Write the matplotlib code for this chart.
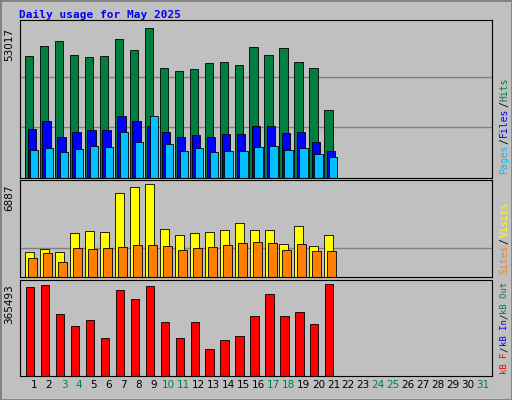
import matplotlib
matplotlib.use("Agg")
import matplotlib.pyplot as plt
import numpy as np

days = list(range(1, 32))
ndata = 21
hits_top = [56,46,41,55,57,56,39,50,28,68,71,69,63,62,65,47,55,48,62,68,109]
files_top = [128,120,136,131,129,129,115,120,125,131,136,134,136,133,133,125,125,132,131,141,150]
pages_top = [149,147,151,148,145,146,131,141,115,143,150,147,151,150,150,146,145,149,147,153,156]
visits_top = [251,248,251,232,230,231,193,187,184,228,234,232,231,229,223,229,229,243,226,245,234]
sites_top = [257,252,261,247,248,247,246,244,244,245,249,247,246,244,242,241,242,249,243,250,250]
kb_top = [287,285,314,326,320,337,290,299,286,322,337,322,348,339,335,316,294,316,312,324,284]

hits = [round((177 - t) / 149 * 53017) for t in hits_top]
files = [round((177 - t) / 149 * 53017) for t in files_top]
pages = [round((177 - t) / 149 * 53017) for t in pages_top]
visits = [round((276 - t) / 92 * 6887) for t in visits_top]
sites = [round((276 - t) / 92 * 6887) for t in sites_top]
kbytes = [round((375 - t) / 91 * 365493) for t in kb_top]

BG = "#C0C0C0"
mono = "DejaVu Sans Mono"
fig = plt.figure(figsize=(5.12, 4.0), dpi=100, facecolor=BG)
fig.add_artist(plt.Rectangle((0, 0), 1, 1, transform=fig.transFigure, fill=False, ec="#808080", lw=2))
fig.text(0.037, 0.962, "Daily usage for May 2025", color="#0000FF", family=mono,
         weight="bold", fontsize=8, va="center")

x = np.arange(1, ndata + 1)
W = 0.55

def mk(rect, ymax, grid):
    ax = fig.add_axes(rect)
    ax.set_facecolor(BG)
    ax.set_xlim(0.06, 31.6)
    ax.set_ylim(0, ymax)
    for g in grid:
        ax.axhline(g * ymax, color="#808080", lw=1, zorder=0)
    ax.set_xticks([])
    ax.set_yticks([])
    for s in ax.spines.values():
        s.set_color("black")
    return ax

ax1 = mk([0.039, 0.555, 0.922, 0.395], max(hits) * 157 / 149, [0.32, 0.64])
ax1.bar(x - 0.33, hits, W, color="#008040", ec="black", lw=0.6)
ax1.bar(x - 0.16, files, W, color="#0000FF", ec="black", lw=0.6)
ax1.bar(x + 0.0, pages, W, color="#00C0FF", ec="black", lw=0.6)

ax2 = mk([0.039, 0.3075, 0.922, 0.2425], max(visits) * 96 / 92, [0.30])
ax2.bar(x - 0.3, visits, W + 0.05, color="#FFFF00", ec="black", lw=0.6)
ax2.bar(x - 0.1, sites, W + 0.05, color="#FF8000", ec="black", lw=0.6)

ax3 = mk([0.039, 0.06, 0.922, 0.24], max(kbytes) * 95 / 91, [])
ax3.bar(x - 0.27, kbytes, W, color="#FF0000", ec="black", lw=0.6)

ax3.set_xticks(days)
ax3.set_xticklabels([str(d) for d in days], fontsize=7.5)
ax3.tick_params(length=0, pad=3)
weekend = {3, 4, 10, 11, 17, 18, 24, 25, 31}
for lbl, d in zip(ax3.get_xticklabels(), days):
    lbl.set_color("#008040" if d in weekend else "black")

for ax, v in [(ax1, max(hits)), (ax2, max(visits)), (ax3, max(kbytes))]:
    ax.text(-0.012, v / ax.get_ylim()[1], str(v), transform=ax.transAxes, rotation=90,
            ha="right", va="top", fontsize=7.5)

def side(parts, y0, fs, step_px):
    y = y0
    for txt, c in parts:
        fig.text(0.985, y, txt, rotation=90, color=c, family=mono, fontsize=fs,
                 ha="center", va="bottom")
        y += len(txt) * step_px / 400
side([("Pages", "#00C0FF"), ("/", "black"), ("Files", "#0000FF"), ("/", "black"), ("Hits", "#008040")], 0.565, 7, 6.1)
side([("Sites", "#FF8000"), ("/", "black"), ("Visits", "#FFFF00")], 0.315, 7, 6.1)
side([("kB F", "#FF0000"), ("/", "black"), ("kB In", "#0000FF"), ("/", "black"), ("kB Out", "#008040")], 0.065, 6.5, 5.5)

fig.savefig("out.png", dpi=100, facecolor=BG)
